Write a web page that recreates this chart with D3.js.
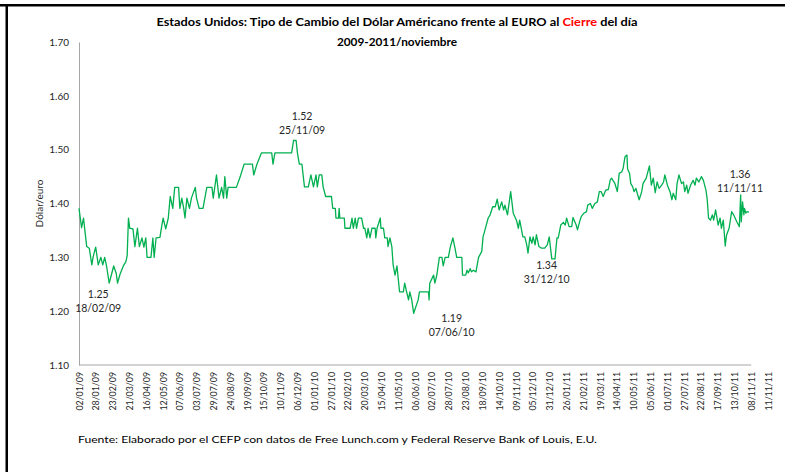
<!DOCTYPE html>
<html>
<head>
<meta charset="utf-8">
<script src="https://cdn.jsdelivr.net/npm/d3@7"></script>
<style>
  body { margin: 0; background: #fff; }
  svg { display: block; font-family: Lato, "Open Sans", sans-serif; }
</style>
</head>
<body>
<div id="chart"></div>
<script>
// cierre diario USD/EUR
var fechas = [
  "02/01/09","06/01/09","09/01/09","14/01/09","18/01/09","22/01/09","24/01/09","28/01/09","01/02/09","05/02/09",
  "08/02/09","11/02/09","14/02/09","18/02/09","22/02/09","25/02/09","01/03/09","03/03/09","07/03/09","12/03/09",
  "16/03/09","18/03/09","20/03/09","22/03/09","27/03/09","30/03/09","03/04/09","06/04/09","10/04/09","13/04/09",
  "16/04/09","18/04/09","24/04/09","27/04/09","29/04/09","02/05/09","08/05/09","11/05/09","13/05/09","17/05/09",
  "21/05/09","24/05/09","28/05/09","31/05/09","06/06/09","08/06/09","11/06/09","14/06/09","16/06/09","19/06/09",
  "23/06/09","26/06/09","02/07/09","04/07/09","08/07/09","14/07/09","20/07/09","28/07/09","30/07/09","04/08/09",
  "08/08/09","12/08/09","15/08/09","17/08/09","20/08/09","22/08/09","04/09/09","10/09/09","16/09/09","29/09/09",
  "01/10/09","06/10/09","13/10/09","29/10/09","31/10/09","03/11/09","29/11/09","02/12/09","06/12/09","08/12/09",
  "11/12/09","15/12/09","19/12/09","25/12/09","29/12/09","02/01/10","06/01/10","08/01/10","11/01/10","15/01/10",
  "17/01/10","21/01/10","30/01/10","01/02/10","05/02/10","06/02/10","10/02/10","11/02/10","12/02/10","19/02/10",
  "20/02/10","28/02/10","03/03/10","05/03/10","08/03/10","10/03/10","13/03/10","18/03/10","21/03/10","23/03/10",
  "26/03/10","28/03/10","31/03/10","03/04/10","08/04/10","09/04/10","11/04/10","16/04/10","17/04/10","21/04/10",
  "23/04/10","27/04/10","28/04/10","01/05/10","04/05/10","06/05/10","09/05/10","12/05/10","16/05/10","22/05/10",
  "24/05/10","27/05/10","30/05/10","01/06/10","04/06/10","07/06/10","14/06/10","16/06/10","30/06/10","01/07/10",
  "02/07/10","08/07/10","10/07/10","13/07/10","17/07/10","21/07/10","23/07/10","26/07/10","31/07/10","03/08/10",
  "07/08/10","10/08/10","13/08/10","21/08/10","22/08/10","27/08/10","29/08/10","31/08/10","03/09/10","05/09/10",
  "08/09/10","12/09/10","16/09/10","21/09/10","23/09/10","26/09/10","01/10/10","04/10/10","08/10/10","12/10/10",
  "15/10/10","18/10/10","22/10/10","25/10/10","27/10/10","31/10/10","05/11/10","09/11/10","14/11/10","17/11/10",
  "19/11/10","24/11/10","27/11/10","30/11/10","02/12/10","05/12/10","08/12/10","10/12/10","13/12/10","15/12/10",
  "19/12/10","23/12/10","28/12/10","01/01/11","04/01/11","08/01/11","13/01/11","16/01/11","18/01/11","22/01/11",
  "26/01/11","29/01/11","31/01/11","04/02/11","08/02/11","10/02/11","15/02/11","17/02/11","21/02/11","23/02/11",
  "27/02/11","03/03/11","05/03/11","09/03/11","12/03/11","16/03/11","20/03/11","23/03/11","26/03/11","29/03/11",
  "02/04/11","06/04/11","09/04/11","11/04/11","16/04/11","20/04/11","23/04/11","27/04/11","29/04/11","02/05/11",
  "05/05/11","06/05/11","09/05/11","11/05/11","14/05/11","16/05/11","19/05/11","21/05/11","24/05/11","28/05/11",
  "30/05/11","04/06/11","09/06/11","12/06/11","15/06/11","18/06/11","21/06/11","24/06/11","28/06/11","01/07/11",
  "03/07/11","07/07/11","11/07/11","14/07/11","16/07/11","20/07/11","22/07/11","25/07/11","29/07/11","01/08/11",
  "03/08/11","06/08/11","08/08/11","12/08/11","16/08/11","19/08/11","21/08/11","25/08/11","29/08/11","01/09/11",
  "05/09/11","07/09/11","09/09/11","12/09/11","15/09/11","17/09/11","20/09/11","24/09/11","27/09/11","29/09/11",
  "02/10/11","05/10/11","07/10/11","11/10/11","15/10/11","18/10/11","23/10/11","27/10/11","29/10/11","30/10/11",
  "01/11/11","03/11/11","04/11/11","06/11/11","08/11/11","11/11/11"
];

var cierre = [
  1.391,1.355,1.373,1.320,1.317,1.286,1.301,1.319,1.286,1.300,
  1.286,1.300,1.283,1.252,1.270,1.284,1.270,1.252,1.269,1.284,
  1.292,1.303,1.373,1.354,1.353,1.320,1.354,1.320,1.336,1.319,
  1.336,1.300,1.300,1.336,1.300,1.336,1.337,1.360,1.373,1.353,
  1.373,1.413,1.391,1.430,1.430,1.391,1.410,1.391,1.373,1.410,
  1.391,1.410,1.430,1.410,1.391,1.391,1.430,1.430,1.410,1.453,
  1.410,1.430,1.410,1.450,1.410,1.430,1.430,1.450,1.473,1.473,
  1.453,1.473,1.494,1.494,1.473,1.494,1.494,1.517,1.517,1.494,
  1.473,1.473,1.431,1.431,1.453,1.431,1.453,1.431,1.453,1.453,
  1.431,1.413,1.413,1.391,1.391,1.373,1.373,1.391,1.373,1.373,
  1.354,1.354,1.373,1.354,1.373,1.354,1.373,1.373,1.354,1.354,
  1.336,1.354,1.336,1.354,1.354,1.336,1.354,1.373,1.354,1.354,
  1.336,1.336,1.320,1.336,1.320,1.286,1.267,1.284,1.236,1.236,
  1.252,1.236,1.221,1.236,1.221,1.196,1.221,1.236,1.236,1.221,
  1.252,1.267,1.252,1.267,1.300,1.300,1.284,1.300,1.300,1.319,
  1.336,1.319,1.300,1.300,1.267,1.267,1.276,1.271,1.279,1.273,
  1.276,1.273,1.300,1.311,1.338,1.351,1.373,1.379,1.394,1.394,
  1.408,1.388,1.403,1.388,1.397,1.379,1.422,1.382,1.369,1.354,
  1.369,1.338,1.338,1.323,1.308,1.338,1.326,1.338,1.323,1.342,
  1.320,1.317,1.317,1.323,1.338,1.297,1.297,1.336,1.336,1.360,
  1.365,1.360,1.373,1.357,1.357,1.374,1.360,1.351,1.369,1.376,
  1.382,1.385,1.397,1.400,1.391,1.400,1.403,1.422,1.422,1.413,
  1.425,1.426,1.444,1.447,1.438,1.422,1.456,1.459,1.465,1.487,
  1.490,1.464,1.456,1.437,1.431,1.422,1.428,1.419,1.407,1.422,
  1.437,1.447,1.470,1.434,1.447,1.420,1.440,1.428,1.434,1.440,
  1.453,1.434,1.422,1.407,1.419,1.407,1.437,1.453,1.437,1.440,
  1.422,1.434,1.419,1.434,1.443,1.434,1.447,1.440,1.450,1.443,
  1.425,1.407,1.373,1.369,1.379,1.369,1.388,1.360,1.373,1.354,
  1.369,1.321,1.341,1.354,1.385,1.379,1.366,1.357,1.416,1.366,
  1.403,1.379,1.391,1.382,1.385,1.384
];

var etiquetas = [
  "02/01/09","28/01/09","23/02/09","21/03/09","16/04/09","12/05/09","07/06/09","03/07/09","29/07/09","24/08/09",
  "19/09/09","15/10/09","10/11/09","06/12/09","01/01/10","27/01/10","22/02/10","20/03/10","15/04/10","11/05/10",
  "06/06/10","02/07/10","28/07/10","23/08/10","18/09/10","14/10/10","09/11/10","05/12/10","31/12/10","26/01/11",
  "21/02/11","19/03/11","14/04/11","10/05/11","05/06/11","01/07/11","27/07/11","22/08/11","17/09/11","13/10/11",
  "08/11/11","11/11/11"
];

var yTicks = [1.10, 1.20, 1.30, 1.40, 1.50, 1.60, 1.70];

var anotValor = ["1.25", "1.52", "1.19", "1.34", "1.36"];
var anotFecha = ["18/02/09", "25/11/09", "07/06/10", "31/12/10", "11/11/11"];

// SETUP
const W = 785, H = 472;
const margin = { top: 42, left: 79, bottom: 107, right: 36 };

const parse = d3.timeParse("%d/%m/%y");

const svg = d3.select("#chart").append("svg")
  .attr("width", W)
  .attr("height", H);

// marco negro (arriba y a la izquierda)
svg.append("rect").attr("x", 0).attr("y", 4).attr("width", W).attr("height", 2.5).attr("fill", "#000");
svg.append("rect").attr("x", 5.5).attr("y", 4).attr("width", 2.5).attr("height", H).attr("fill", "#000");

// scales
const x = d3.scaleTime()
  .domain([parse(fechas[0]), parse(fechas[fechas.length - 1])])
  .range([margin.left, 749]);

const xLab = d3.scalePoint()
  .domain(etiquetas)
  .range([margin.left, 768]);

const y = d3.scaleLinear()
  .domain([1.10, 1.70])
  .range([365, margin.top]);

// y axis
const yAxisGroup = svg.append("g")
  .attr("transform", `translate(${margin.left},0)`)
  .call(d3.axisLeft(y).tickValues(yTicks).tickFormat(d3.format(".2f")).tickSize(0).tickPadding(10));

yAxisGroup.select(".domain").attr("stroke", "#a6a6a6");
yAxisGroup.selectAll("text")
  .attr("font-family", "Lato, sans-serif")
  .attr("font-size", "10px")
  .attr("fill", "#262626");

// x axis (etiquetas cada 26 dias)
const xAxisGroup = svg.append("g")
  .attr("transform", `translate(0,${y(1.10)})`)
  .call(d3.axisBottom(xLab).tickSize(0));

xAxisGroup.select(".domain").remove();
xAxisGroup.append("line")
  .attr("x1", xLab(etiquetas[0]))
  .attr("x2", xLab(etiquetas[etiquetas.length - 2]))
  .attr("stroke", "#a6a6a6");

xAxisGroup.selectAll(".tick text")
  .attr("transform", "rotate(-90)")
  .attr("text-anchor", "end")
  .attr("x", -7)
  .attr("y", 0)
  .attr("dy", "0.35em")
  .attr("font-family", "Lato, sans-serif")
  .attr("font-size", "8.8px")
  .attr("fill", "#262626");

// linea
const serie = fechas.map((f, i) => ({ fecha: parse(f), valor: cierre[i] }));

const linea = d3.line()
  .x(d => x(d.fecha))
  .y(d => y(d.valor));

svg.append("path")
  .datum(serie)
  .attr("fill", "none")
  .attr("stroke", "#00b050")
  .attr("stroke-width", 1.3)
  .attr("stroke-linejoin", "round")
  .attr("d", linea);

// anotaciones
const anotDx = [-11, 13, 38, 0, -9];
const anotDy = [14, -19, 5, 33, -47];

anotValor.forEach((v, i) => {
  const px = x(parse(anotFecha[i])) + anotDx[i];
  const py = y(+v) + anotDy[i];
  const t = svg.append("text")
    .attr("x", px)
    .attr("y", py)
    .attr("text-anchor", "middle")
    .attr("font-size", "10.5px")
    .attr("fill", "#262626");
  t.append("tspan").attr("x", px).attr("dy", 0).text(v);
  t.append("tspan").attr("x", px).attr("dy", 14).text(anotFecha[i]);
});

// y title
svg.append("text")
  .attr("transform", `translate(43,${y(1.40)}) rotate(-90)`)
  .attr("text-anchor", "middle")
  .attr("font-size", "10px")
  .attr("fill", "#262626")
  .text("Dólar/euro");

// titulo
const titulo = svg.append("text")
  .attr("x", 397)
  .attr("y", 26)
  .attr("text-anchor", "middle")
  .attr("font-weight", "bold")
  .attr("font-size", "11.8px")
  .attr("fill", "#000")
  .attr("textLength", 481)
  .attr("lengthAdjust", "spacingAndGlyphs");
titulo.append("tspan").text("Estados Unidos: Tipo de Cambio del Dólar Américano frente al EURO al ");
titulo.append("tspan").attr("fill", "#ff0000").text("Cierre");
titulo.append("tspan").text(" del día");

svg.append("text")
  .attr("x", 397)
  .attr("y", 46)
  .attr("text-anchor", "middle")
  .attr("font-weight", "bold")
  .attr("font-size", "11.8px")
  .attr("fill", "#000")
  .text("2009-2011/noviembre");

// fuente
svg.append("text")
  .attr("x", 78)
  .attr("y", 443)
  .attr("font-size", "9.2px")
  .attr("fill", "#000")
  .attr("textLength", 519)
  .attr("lengthAdjust", "spacingAndGlyphs")
  .text("Fuente: Elaborado por el CEFP con datos de Free Lunch.com y Federal Reserve Bank of Louis, E.U.");
</script>
</body>
</html>
